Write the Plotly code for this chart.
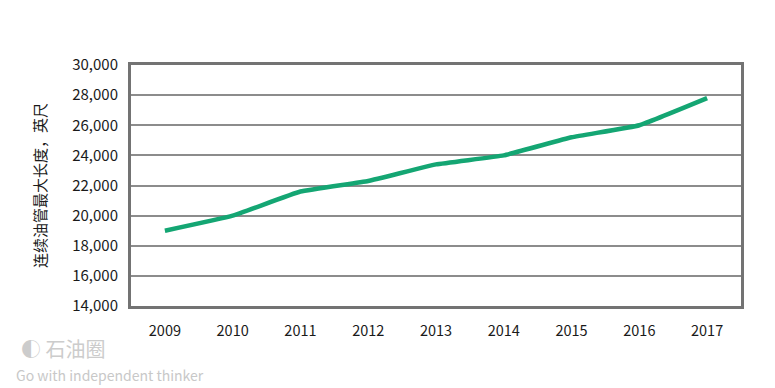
import plotly.graph_objects as go

years = ["2009", "2010", "2011", "2012", "2013", "2014", "2015", "2016", "2017"]
max_length_ft = [19000, 20000, 21600, 22300, 23400, 24000, 25200, 26000, 27800]
y_ticks = [14000, 16000, 18000, 20000, 22000, 24000, 26000, 28000, 30000]
y_tick_labels = ["14,000", "16,000", "18,000", "20,000", "22,000", "24,000", "26,000", "28,000", "30,000"]
y_title = "连续油管最大长度，英尺"

fig = go.Figure()
fig.add_trace(go.Scatter(
    x=years, y=max_length_ft, mode="lines",
    line=dict(color="#14a673", width=4.5, shape="spline", smoothing=0.3),
    hoverinfo="x+y",
))

font_family = "Noto Sans CJK SC, DejaVu Sans, sans-serif"

fig.update_layout(
    width=767, height=380,
    margin=dict(l=123, r=34, t=57, b=82, autoexpand=False),
    paper_bgcolor="white", plot_bgcolor="white",
    showlegend=False,
    font=dict(family=font_family, color="#1a1a1a", size=14),
    xaxis=dict(
        type="category", range=[-0.5, 8.5], showgrid=False, zeroline=False,
        showline=True, linecolor="#737373", linewidth=3, mirror=True,
        ticks="", ticklabelstandoff=10,
        tickfont=dict(size=14.5, color="#1a1a1a"),
    ),
    yaxis=dict(
        range=[14000, 30000], tickvals=y_ticks, ticktext=y_tick_labels,
        showgrid=True, gridcolor="#8c8c8c", gridwidth=2, zeroline=False,
        showline=True, linecolor="#737373", linewidth=3, mirror=True,
        ticks="", ticklabelstandoff=7,
        tickfont=dict(size=15, color="#1a1a1a"),
        title=dict(text=y_title, font=dict(size=15, color="#1a1a1a"), standoff=22),
    ),
)

fig.add_annotation(xref="paper", yref="paper", x=-0.183, y=-0.175, xanchor="left", yanchor="middle",
                   text="◐ 石油圈", showarrow=False,
                   font=dict(size=20, color="#cccccc", family=font_family))
fig.add_annotation(xref="paper", yref="paper", x=-0.192, y=-0.285, xanchor="left", yanchor="middle",
                   text="Go with independent thinker", showarrow=False,
                   font=dict(size=14, color="#c8c8c8", family=font_family))

fig.write_html("out.html")
